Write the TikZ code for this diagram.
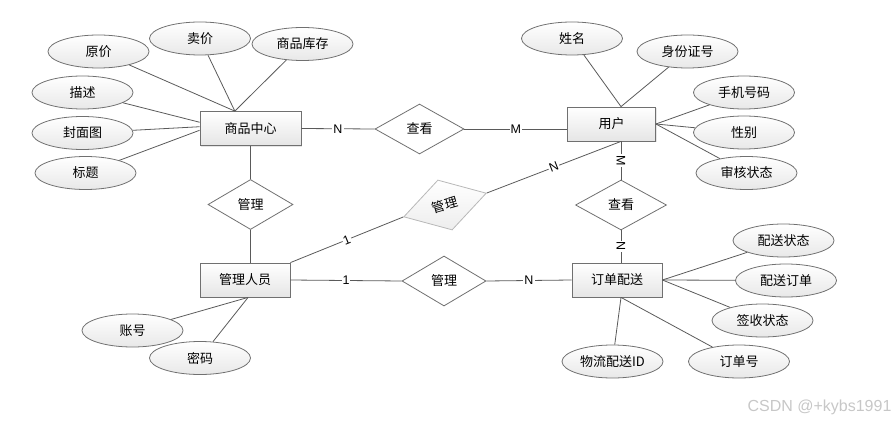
\documentclass[tikz,border=0pt]{standalone}
\usepackage{fontspec}
\setmainfont{Liberation Sans}
\newfontfamily\cjk{Noto Sans CJK SC}
\usetikzlibrary{shapes.geometric, shadows}

\definecolor{linegray}{HTML}{5A5A5A}
\definecolor{bordergray}{HTML}{707070}

\begin{document}
\begin{tikzpicture}[
    x = 1pt, y = -1pt,
    line width = 0.8pt,
    every node/.style = {font = \cjk\fontsize{13}{15}\selectfont, inner sep = 0pt},
    entity/.style = {draw = bordergray, rectangle, minimum width = 90pt, minimum height = 34pt,
      top color = white, bottom color = black!10,
      drop shadow = {shadow xshift = 1.2pt, shadow yshift = -1.2pt, opacity = 0.2}},
    attribute/.style = {draw = bordergray, ellipse, minimum width = 101pt, minimum height = 33pt,
      top color = white, bottom color = black!9},
    relation/.style = {draw = bordergray, diamond, minimum width = 88pt, minimum height = 50pt, fill = white},
    card/.style = {font = \fontsize{12.5}{14}\selectfont, fill = white, inner sep = 1pt},
    link/.style = {draw = linegray}
  ]
  \useasboundingbox (0,0) rectangle (896,422);

  % entities
  \node[entity, minimum width = 101pt] (sp) at (250.5,128.5) {商品中心};
  \node[entity, minimum width = 88pt] (yh) at (611.5,124) {用户};
  \node[entity] (gly) at (245,280) {管理人员};
  \node[entity] (dd) at (617,280) {订单配送};

  % relations
  \node[relation, minimum width = 89pt] (ck1) at (419.5,129) {查看};
  \node[relation, minimum width = 85pt] (gl1) at (250.5,204.5) {管理};
  \node[relation, minimum width = 84pt] (gl2) at (444,281) {管理};
  \node[relation, minimum width = 86pt, minimum height = 52pt, rotate = 16,
    draw = black!28, top color = white, bottom color = black!7] (gl3) at (445,205) {管理};
  \node[relation, minimum width = 91pt] (ck2) at (621,205) {查看};

  % attributes of 商品中心
  \node[attribute] (yj) at (98.5,51.5) {原价};
  \node[attribute] (mj) at (200,38.5) {卖价};
  \node[attribute] (kc) at (302.5,44) {商品库存};
  \node[attribute] (ms) at (82.5,92.5) {描述};
  \node[attribute] (fm) at (82.5,133) {封面图};
  \node[attribute] (bt) at (85.5,173) {标题};
  % attributes of 用户
  \node[attribute] (xm) at (572,38.5) {姓名};
  \node[attribute] (sfz) at (687.5,51.5) {身份证号};
  \node[attribute] (sj) at (744,92.5) {手机号码};
  \node[attribute] (xb) at (744,132.5) {性别};
  \node[attribute] (sh) at (746.5,173) {审核状态};
  % attributes of 订单配送
  \node[attribute] (pzt) at (783.5,240.5) {配送状态};
  \node[attribute] (pdd) at (786,280.5) {配送订单};
  \node[attribute] (qs) at (762.5,320.5) {签收状态};
  \node[attribute] (ddh) at (739,361.5) {订单号};
  \node[attribute] (wl) at (612.5,361.5) {物流配送ID};
  % attributes of 管理人员
  \node[attribute] (zh) at (132.5,330.5) {账号};
  \node[attribute] (mm) at (200,358) {密码};

  % attribute lines
  \draw[link] (yj) -- (sp.132);
  \draw[link] (mj) -- (sp.132);
  \draw[link] (kc) -- (sp.132);
  \draw[link] (ms) -- (sp.173);
  \draw[link] (fm) -- (sp.178);
  \draw[link] (bt) -- (sp.182);
  \draw[link] (xm) -- (yh.north -| ck2.north);
  \draw[link] (sfz) -- (yh.north -| ck2.north);
  \draw[link] (sj) -- (yh.east);
  \draw[link] (xb) -- (yh.east);
  \draw[link] (sh) -- (yh.east);
  \draw[link] (pzt) -- (dd.east);
  \draw[link] (pdd) -- (dd.east);
  \draw[link] (qs) -- (dd.east);
  \draw[link] (ddh) -- (dd.south -| ck2.south);
  \draw[link] (wl) -- (dd.south -| ck2.south);
  \draw[link] (zh) -- (gly.280);
  \draw[link] (mm) -- (gly.280);

  % relation lines
  \draw[link] (sp.east) -- node[card] {N} (ck1.west);
  \draw[link] (ck1.east) -- node[card] {M} (yh.west |- ck1.east);
  \draw[link] (sp.south) -- (gl1.north);
  \draw[link] (gl1.south) -- (gly.north -| gl1.south);
  \draw[link] (gly.east) -- node[card] {1} (gl2.west);
  \draw[link] (gl2.east) -- node[card] {N} (dd.west);
  \draw[link] (gly.north east) -- node[card, sloped] {1} (gl3.west);
  \draw[link] (gl3.east) -- node[card, sloped] {N} (yh.south -| ck2.north);
  \draw[link] (yh.south -| ck2.north) -- node[card, sloped] {M} (ck2.north);
  \draw[link] (ck2.south) -- node[card, sloped] {N} (dd.north -| ck2.south);

  \node[font = \fontsize{16}{18}\selectfont, text = black!22] (wm) at (819.5,407) {CSDN @+kybs1991};
\end{tikzpicture}
\end{document}
